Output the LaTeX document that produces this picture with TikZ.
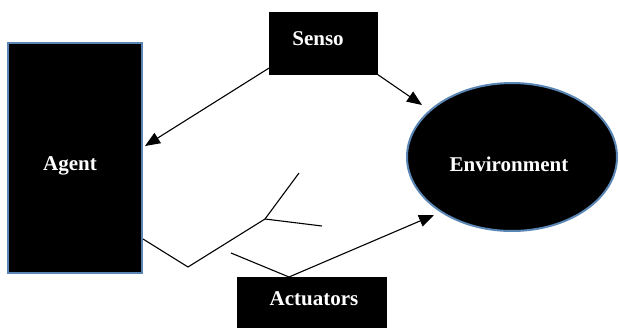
\documentclass[tikz,border=0pt]{standalone}
\usepackage{fontspec}
\setmainfont{Liberation Serif}
\usetikzlibrary{arrows.meta,shapes.geometric,calc}
\definecolor{edgeblue}{HTML}{5A86B5}
\tikzset{
  blackbox/.style={draw=black, fill=black, text=white, font=\bfseries\fontsize{21}{24}\selectfont, inner sep=0pt},
  conn/.style={draw=black, line width=1.1pt},
  arr/.style={conn, -{Triangle[length=15pt,width=12pt]}}
}
\begin{document}
\begin{tikzpicture}[x=1pt,y=-1pt]
\useasboundingbox (0,0) rectangle (619,327);
\clip (0,0) rectangle (619,327);
\fill[white] (0,0) rectangle (619,327);
\node[blackbox, draw=edgeblue, line width=2pt, rectangle, minimum width=134pt, minimum height=230pt] (agent) at (75,158) {};
\node[text=white, font=\bfseries\fontsize{21}{24}\selectfont] (agentlbl) at (70,166) {Agent};
\node[blackbox, rectangle, minimum width=108pt, minimum height=62pt] (senso) at (323,43) {};
\node[text=white, font=\bfseries\fontsize{21}{24}\selectfont] (sensolbl) at (318,39) {Senso};
\node[blackbox, draw=edgeblue, line width=2pt, ellipse, minimum width=210pt, minimum height=148pt] (env) at (512,157) {};
\node[text=white, font=\bfseries\fontsize{21}{24}\selectfont] (envlbl) at (509,164) {Environment};
\node[blackbox, rectangle, minimum width=149pt, minimum height=56pt, anchor=north] (act) at (311.5,277) {};
\node[text=white, font=\bfseries\fontsize{21}{24}\selectfont] (actlbl) at (314,299) {Actuators};
\coordinate (envin1) at (422,105);
\coordinate (envin2) at (434,215);
\coordinate (vbot) at (188,267);
\coordinate (junc) at (265,219);
\coordinate (br1) at (299,173);
\coordinate (br2) at (322,226);
\coordinate (free) at (231,253);
\coordinate (acttop) at (289,277);
\draw[arr] ($(senso.south west)+(0,-6)$) -- ($(agent.east)+(2,-12)$);
\draw[arr] (senso.south east) -- (envin1);
\draw[arr] (acttop) -- (envin2);
\draw[conn] ($(agent.east)+(0,81)$) -- (vbot) -- (junc) -- (br1);
\draw[conn] (junc) -- (br2);
\draw[conn] (free) -- (acttop);
\end{tikzpicture}
\end{document}
